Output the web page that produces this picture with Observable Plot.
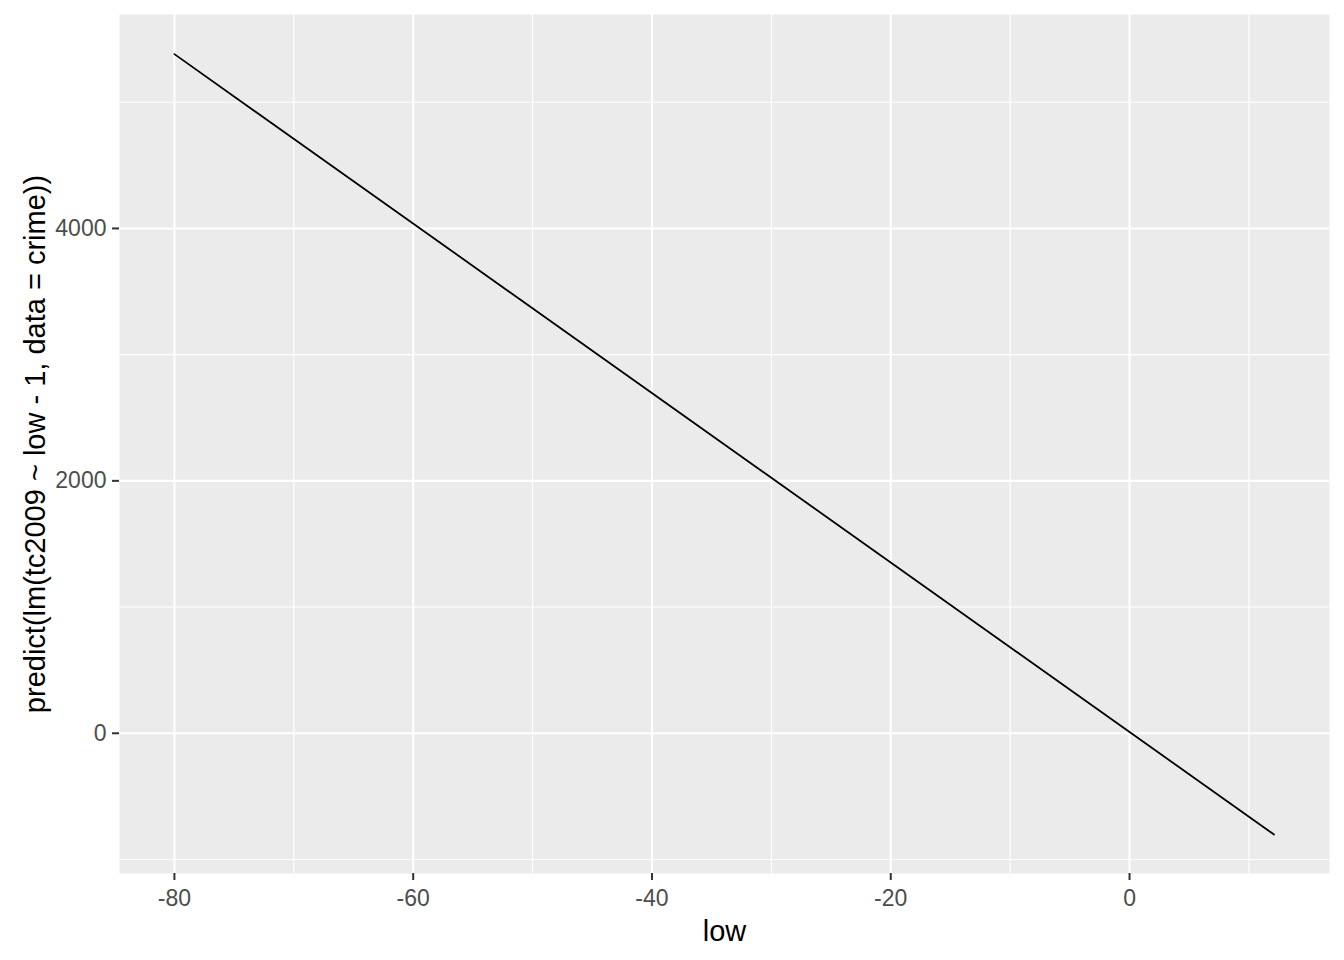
<!DOCTYPE html>
<html>
<head>
<meta charset="utf-8">
<script src="https://cdn.jsdelivr.net/npm/d3@7"></script>
<script src="https://cdn.jsdelivr.net/npm/@observablehq/plot@0.6"></script>
<style>
  html, body { margin: 0; padding: 0; background: #fff; }
  svg { font-family: "Liberation Sans", Arial, sans-serif; }
</style>
</head>
<body>
<div id="chart"></div>
<script>
// Data
const low = [-80, 12.1];
const predicted = [5381, -802];

const xTicks = [-80, -60, -40, -20, 0];
const xMinor = [-70, -50, -30, -10, 10];
const yTicks = [0, 2000, 4000];
const yMinor = [-1000, 1000, 3000, 5000];

const xTitle = "low";
const yTitle = "predict(lm(tc2009 ~ low - 1, data = crime))";

const rows = low.map((v, i) => ({low: v, pred: predicted[i]}));

const chart = Plot.plot({
  width: 1344,
  height: 960,
  marginLeft: 119,
  marginRight: 15,
  marginTop: 14,
  marginBottom: 87,
  x: {domain: [-84.6, 16.75]},
  y: {domain: [-1111, 5695]},
  marks: [
    Plot.frame({fill: "#EBEBEB", stroke: "none"}),
    Plot.gridX(xMinor, {stroke: "#fff", strokeOpacity: 1, strokeWidth: 1.1}),
    Plot.gridY(yMinor, {stroke: "#fff", strokeOpacity: 1, strokeWidth: 1.1}),
    Plot.gridX(xTicks, {stroke: "#fff", strokeOpacity: 1, strokeWidth: 2.1}),
    Plot.gridY(yTicks, {stroke: "#fff", strokeOpacity: 1, strokeWidth: 2.1}),
    Plot.line(rows, {x: "low", y: "pred", stroke: "#000", strokeWidth: 1.8}),
    Plot.axisX({ticks: xTicks, tickSize: 7, tickPadding: 9, stroke: "#333", strokeWidth: 2,
      fill: "#4D4D4D", fontSize: 23, label: null, tickFormat: d => String(d)}),
    Plot.axisY({ticks: yTicks, tickSize: 7, tickPadding: 6, stroke: "#333", strokeWidth: 2,
      fill: "#4D4D4D", fontSize: 23, label: null, tickFormat: d => String(d)}),
    Plot.text([xTitle], {text: d => d, frameAnchor: "bottom", dy: 67, fontSize: 29, fill: "#000"}),
    Plot.text([yTitle], {text: d => d, frameAnchor: "left", dx: -84, rotate: -90, textAnchor: "middle", fontSize: 29, fill: "#000"})
  ]
});
document.getElementById("chart").appendChild(chart);
</script>
</body>
</html>
